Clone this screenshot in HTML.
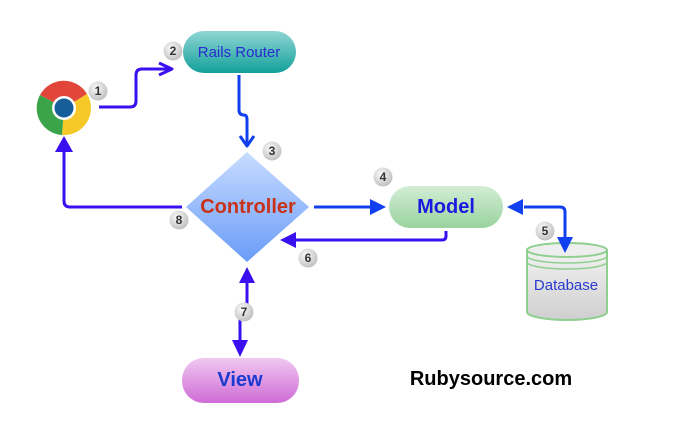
<!DOCTYPE html>
<html><head><meta charset="utf-8"><style>
html,body{margin:0;padding:0;background:#fff;width:695px;height:439px;overflow:hidden}
text{font-family:"Liberation Sans",sans-serif}
</style></head><body>
<svg width="695" height="439" viewBox="0 0 695 439" xmlns="http://www.w3.org/2000/svg">
<defs>
<linearGradient id="gr" x1="0" y1="0" x2="0" y2="1"><stop offset="0" stop-color="#8fd6d4"/><stop offset="1" stop-color="#13a09b"/></linearGradient>
<linearGradient id="gc" x1="0" y1="0" x2="0" y2="1"><stop offset="0" stop-color="#c8dcff"/><stop offset="1" stop-color="#6a9cf8"/></linearGradient>
<linearGradient id="gm" x1="0" y1="0" x2="0" y2="1"><stop offset="0" stop-color="#d3edd5"/><stop offset="1" stop-color="#99d39e"/></linearGradient>
<linearGradient id="gv" x1="0" y1="0" x2="0" y2="1"><stop offset="0" stop-color="#f0c8f0"/><stop offset="1" stop-color="#cf6cd6"/></linearGradient>
<linearGradient id="gd" x1="0" y1="0" x2="0" y2="1"><stop offset="0" stop-color="#f2f2f2"/><stop offset="1" stop-color="#cfcfcf"/></linearGradient>
<radialGradient id="gb" cx="0.4" cy="0.35" r="0.7"><stop offset="0" stop-color="#fafafa"/><stop offset="1" stop-color="#bdbdbd"/></radialGradient>
</defs>

<g transform="translate(64,108)">
<path d="M0,0 L-24,-13 A27,27 0 0 1 23,-14 Z" fill="#e2453a"/>
<path d="M0,0 L23,-14 A27,27 0 0 1 -2,27 Z" fill="#f7c928"/>
<path d="M0,0 L-2,27 A27,27 0 0 1 -24,-13 Z" fill="#3ba34a"/>
<circle r="12" fill="#fff"/><circle r="9.5" fill="#165e9a"/>
</g>

<path d="M527,250 V312 A40,8 0 0 0 607,312 V250" fill="url(#gd)" stroke="#8fcf8f" stroke-width="2"/>
<ellipse cx="567" cy="250" rx="40" ry="7" fill="#eee" stroke="#8fcf8f" stroke-width="2"/>
<path d="M527,256 A40,7 0 0 0 607,256 M527,262 A40,7 0 0 0 607,262" fill="none" stroke="#8fcf8f" stroke-width="1.5"/>
<text x="566" y="290" text-anchor="middle" font-size="15" fill="#2a3ad0">Database</text>

<g fill="none" stroke-width="3" stroke-linejoin="round">
<path d="M99,107 H130 Q136,107 136,101 V75 Q136,69 142,69 H170" stroke="#3a10f0"/>
<path d="M159,63 L172,69 L159,75" stroke="#3a10f0"/>
<path d="M239,75 V110 Q239,115 244,115 Q247,115 247,120 V145" stroke="#1040f0"/>
<path d="M240,136 L247,146 L254,136" stroke="#1040f0"/>
<path d="M182,207 H70 Q64,207 64,201 V150" stroke="#3a10f0"/>
<path d="M314,207 H372" stroke="#1040f0"/>
<path d="M446,231 V236 Q446,240 442,240 H296" stroke="#3a10f0"/>
<path d="M524,207 H560 Q565,207 565,212 V240" stroke="#1040f0"/>
<path d="M247,282 V312 H240 V342" stroke="#3a10f0"/>
</g>
<g>
<polygon points="64,136 55,152 73,152" fill="#3a10f0"/>
<polygon points="386,207 370,199 370,215" fill="#1040f0"/>
<polygon points="280,240 296,232 296,248" fill="#3a10f0"/>
<polygon points="507,207 523,199 523,215" fill="#1040f0"/>
<polygon points="565,253 557,237 573,237" fill="#1040f0"/>
<polygon points="247,267 239,283 255,283" fill="#3a10f0"/>
<polygon points="240,357 232,340 248,340" fill="#3a10f0"/>
</g>

<rect x="183" y="31" width="113" height="42" rx="21" fill="url(#gr)"/>
<text x="239" y="57" text-anchor="middle" font-size="15" fill="#2a2ad0">Rails Router</text>

<polygon points="247,152 309,207 247,262 186,207" fill="url(#gc)"/>
<text x="248" y="213" text-anchor="middle" font-size="20" font-weight="bold" fill="#c83218">Controller</text>

<rect x="389" y="186" width="114" height="42" rx="21" fill="url(#gm)"/>
<text x="446" y="213" text-anchor="middle" font-size="20" font-weight="bold" fill="#1a1ae0">Model</text>

<rect x="182" y="358" width="117" height="45" rx="22" fill="url(#gv)"/>
<text x="240" y="386" text-anchor="middle" font-size="20" font-weight="bold" fill="#1a3ad0">View</text>

<text x="491" y="385" text-anchor="middle" font-size="20" font-weight="bold" fill="#000">Rubysource.com</text>

<g font-size="12" font-weight="bold" fill="#333" text-anchor="middle">
<circle cx="98" cy="91" r="9.5" fill="url(#gb)"/><text x="98" y="95">1</text>
<circle cx="173" cy="51" r="9.5" fill="url(#gb)"/><text x="173" y="55">2</text>
<circle cx="272" cy="151" r="9.5" fill="url(#gb)"/><text x="272" y="155">3</text>
<circle cx="383" cy="177" r="9.5" fill="url(#gb)"/><text x="383" y="181">4</text>
<circle cx="545" cy="231" r="9.5" fill="url(#gb)"/><text x="545" y="235">5</text>
<circle cx="308" cy="258" r="9.5" fill="url(#gb)"/><text x="308" y="262">6</text>
<circle cx="244" cy="312" r="9.5" fill="url(#gb)"/><text x="244" y="316">7</text>
<circle cx="179" cy="220" r="9.5" fill="url(#gb)"/><text x="179" y="224">8</text>
</g>
</svg>
</body></html>
